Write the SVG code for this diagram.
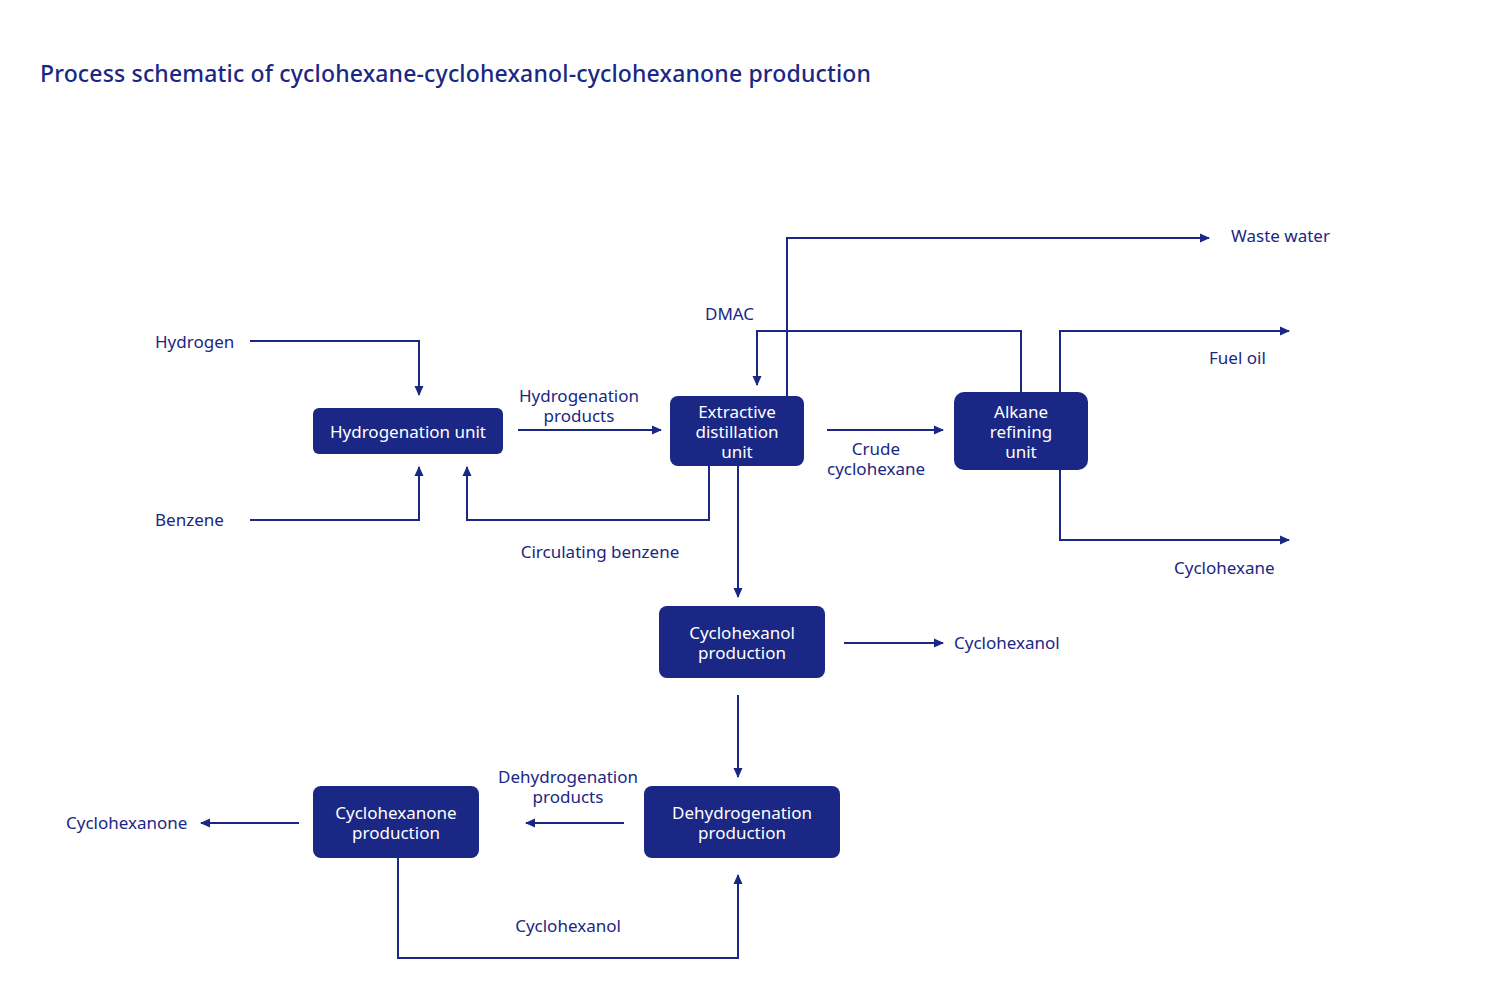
<svg xmlns="http://www.w3.org/2000/svg" width="1485" height="993" viewBox="0 0 1485 993">
<style>
.n{fill:#1a2784}
.nt{fill:#fff;font-family:"Noto Sans",sans-serif;font-size:17px;text-anchor:middle}
.l{fill:#1a2784;font-family:"Noto Sans",sans-serif;font-size:17px}
.c{fill:none;stroke:#1a2784;stroke-width:2;marker-end:url(#a)}
</style>
<defs><marker id="a" markerUnits="userSpaceOnUse" markerWidth="10" markerHeight="10" refX="9" refY="5" orient="auto"><path d="M0,0.5 L10,5 L0,9.5Z" fill="#1a2784"/></marker></defs>
<rect width="1485" height="993" fill="#fff"/>
<text x="40" y="82" textLength="831" style="fill:#1a2784;font-family:'Noto Sans',sans-serif;font-size:23px;font-weight:500">Process schematic of cyclohexane-cyclohexanol-cyclohexanone production</text>
<g id="connectors">
<path class="c" d="M250,341H419V395"/>
<path class="c" d="M250,520H419V467"/>
<path class="c" d="M709,466V520H467V467"/>
<path class="c" d="M518,430H661"/>
<path class="c" d="M827,430H943"/>
<path class="c" d="M787,396V238H1209"/>
<path class="c" d="M1021,392V331H757V385"/>
<path class="c" d="M1060,392V331H1289"/>
<path class="c" d="M1060,470V540H1289"/>
<path class="c" d="M738,466V597"/>
<path class="c" d="M844,643H943"/>
<path class="c" d="M738,695V777"/>
<path class="c" d="M624,823H526"/>
<path class="c" d="M299,823H201"/>
<path class="c" d="M398,858V958H738V875"/>
</g>
<g id="hydro"><rect class="n" x="313" y="408" width="190" height="46" rx="6"/><text class="nt" x="408" y="438">Hydrogenation unit</text></g>
<g id="extract"><rect class="n" x="670" y="396" width="134" height="70" rx="8"/><text class="nt" x="737" y="418">Extractive</text><text class="nt" x="737" y="438">distillation</text><text class="nt" x="737" y="458">unit</text></g>
<g id="alkane"><rect class="n" x="954" y="392" width="134" height="78" rx="10"/><text class="nt" x="1021" y="418">Alkane</text><text class="nt" x="1021" y="438">refining</text><text class="nt" x="1021" y="458">unit</text></g>
<g id="cyclohexanol"><rect class="n" x="659" y="606" width="166" height="72" rx="8"/><text class="nt" x="742" y="639">Cyclohexanol</text><text class="nt" x="742" y="659">production</text></g>
<g id="dehydro"><rect class="n" x="644" y="786" width="196" height="72" rx="8"/><text class="nt" x="742" y="819">Dehydrogenation</text><text class="nt" x="742" y="839">production</text></g>
<g id="cyclohexanone"><rect class="n" x="313" y="786" width="166" height="72" rx="8"/><text class="nt" x="396" y="819">Cyclohexanone</text><text class="nt" x="396" y="839">production</text></g>
<g id="labels">
<text class="l" x="155" y="348">Hydrogen</text>
<text class="l" x="155" y="526">Benzene</text>
<text class="l" x="579" y="402" text-anchor="middle">Hydrogenation</text>
<text class="l" x="579" y="422" text-anchor="middle">products</text>
<text class="l" x="600" y="558" text-anchor="middle">Circulating benzene</text>
<text class="l" x="705" y="320">DMAC</text>
<text class="l" x="1231" y="242">Waste water</text>
<text class="l" x="876" y="455" text-anchor="middle">Crude</text>
<text class="l" x="876" y="475" text-anchor="middle">cyclohexane</text>
<text class="l" x="1209" y="364">Fuel oil</text>
<text class="l" x="1174" y="574">Cyclohexane</text>
<text class="l" x="954" y="649">Cyclohexanol</text>
<text class="l" x="568" y="783" text-anchor="middle">Dehydrogenation</text>
<text class="l" x="568" y="803" text-anchor="middle">products</text>
<text class="l" x="66" y="829">Cyclohexanone</text>
<text class="l" x="568" y="932" text-anchor="middle">Cyclohexanol</text>
</g>
</svg>
